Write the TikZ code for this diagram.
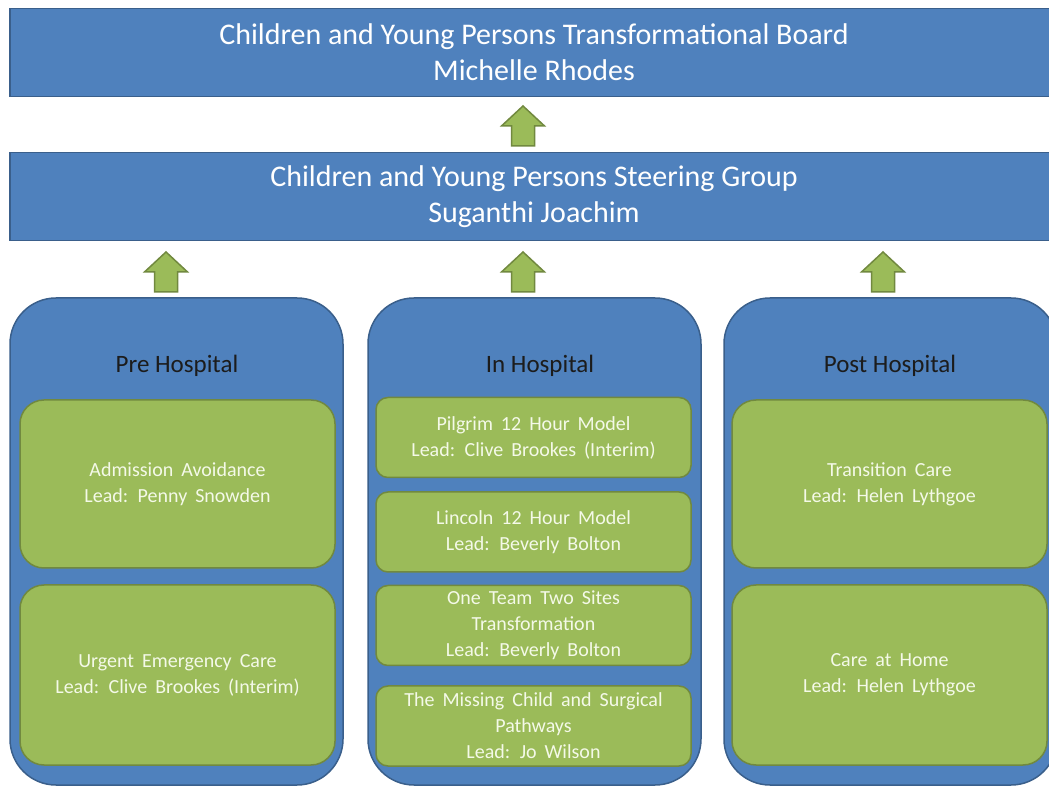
\documentclass[tikz,border=0pt]{standalone}
\usepackage{fontspec}
\setmainfont{Carlito}
\usetikzlibrary{positioning}
\definecolor{barblue}{HTML}{4F81BD}
\definecolor{barline}{HTML}{3A5F8B}
\definecolor{leafgreen}{HTML}{9BBB59}
\definecolor{leafline}{HTML}{71893F}
\definecolor{leaftext}{HTML}{F4F9E8}
\definecolor{titlegrey}{HTML}{1C1C1C}
\newcommand\taskfont{\fontsize{20}{26}\selectfont\spaceskip=8pt plus 1pt\relax}
\tikzset{
	x=1pt, y=1pt,
	bar/.style={draw=barline, fill=barblue, line width=1.5pt, minimum width=1048pt,
		minimum height=88pt, text=white, align=center, font=\fontsize{30}{36}\selectfont},
	column/.style={draw=barline, fill=barblue, line width=1.5pt, rounded corners=46pt,
		minimum width=333pt, minimum height=487pt},
	coltitle/.style={text=titlegrey, font=\fontsize{25}{30}\selectfont},
	bigtask/.style={draw=leafline, fill=leafgreen, line width=1.5pt, rounded corners=24pt,
		minimum width=315pt, minimum height=168pt, text=leaftext, align=center,
		font=\taskfont},
	task/.style={bigtask, rounded corners=12pt, minimum height=80pt},
	uparrow/.pic={
		\draw[draw=leafline, fill=leafgreen, line width=1.5pt]
			(-11.5,0) -- (-11.5,20) -- (-21.5,20) -- (0,40) -- (21.5,20) -- (11.5,20) -- (11.5,0) -- cycle;
	}
}

\begin{document}
\begin{tikzpicture}
	\clip (0,0) rectangle (1049,787);
	\fill[white] (0,0) rectangle (1049,787);

	% top of the chain
	\node[bar] (board) at (534,734.5) {Children and Young Persons Transformational Board\\Michelle Rhodes};
	\node[bar] (steer) at (534,590.5) {Children and Young Persons Steering Group\\Suganthi Joachim};
	\pic at (523,641) {uparrow};

	% the three columns
	\node[column] (pre) at (176.5,245.5) {};
	\node[column] (inh) at (534.5,245.5) {};
	\node[column] (post) at (890.5,245.5) {};
	\pic at (166,495) {uparrow};
	\pic at (523,495) {uparrow};
	\pic at (883,495) {uparrow};

	\node[coltitle] (pretitle) at (177,421) {Pre Hospital};
	\node[coltitle] (intitle) at (540,421) {In Hospital};
	\node[coltitle] (posttitle) at (890,421) {Post Hospital};

	% pre hospital
	\node[bigtask] (admit) at (177.5,303) {Admission Avoidance\\Lead: Penny Snowden};
	\node[bigtask, minimum height=180pt] (urgent) at (177.5,112) {Urgent Emergency Care\\Lead: Clive Brookes (Interim)};

	% in hospital
	\node[task] (pilgrim) at (533.5,349.5) {Pilgrim 12 Hour Model\\Lead: Clive Brookes (Interim)};
	\node[task, below=13pt of pilgrim] (lincoln) {Lincoln 12 Hour Model\\Lead: Beverly Bolton};
	\node[task, below=12pt of lincoln] (oneteam) {One Team Two Sites\\Transformation\\Lead: Beverly Bolton};
	\node[task, below=19pt of oneteam] (missing) {The Missing Child and Surgical\\Pathways\\Lead: Jo Wilson};

	% post hospital
	\node[bigtask] (transit) at (889.5,303) {Transition Care\\Lead: Helen Lythgoe};
	\node[bigtask, minimum height=180pt] (home) at (889.5,112) {Care at Home\\Lead: Helen Lythgoe};
\end{tikzpicture}
\end{document}
